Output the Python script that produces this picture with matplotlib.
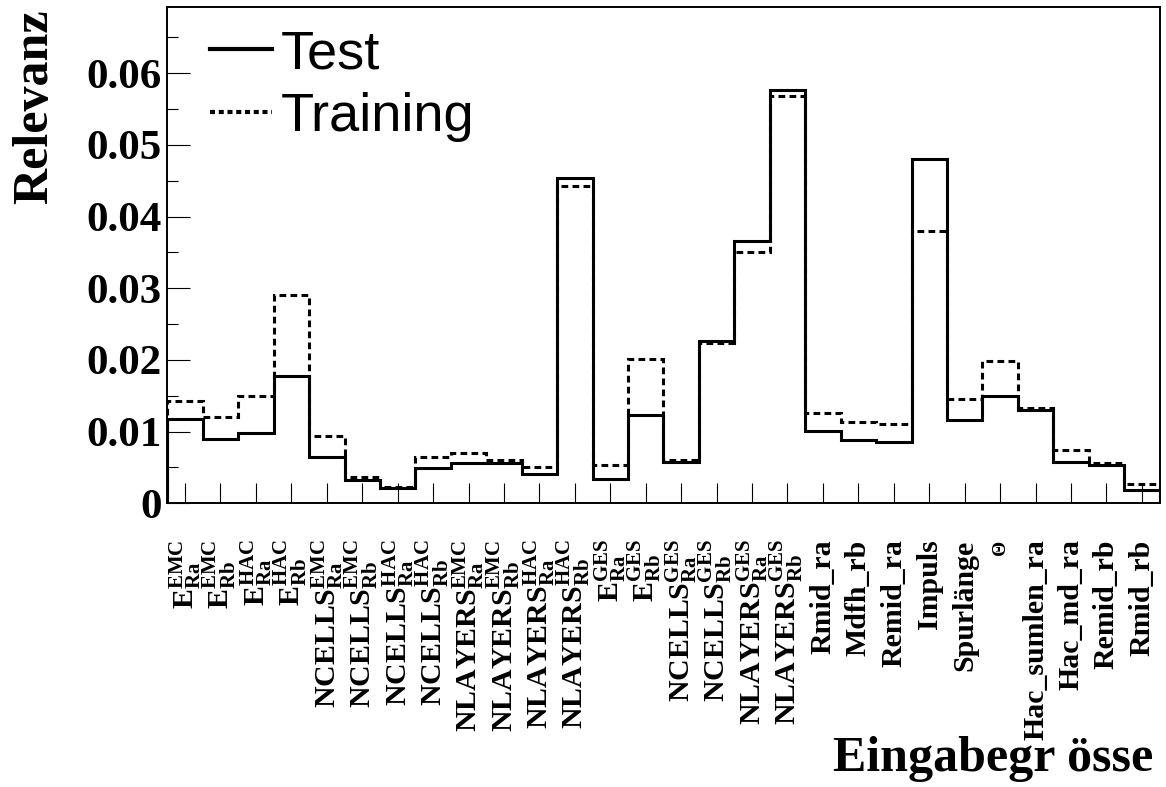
# Relevanz der Eingabegroessen fuer Test- und Trainingsdatensatz (ROOT-Stil Histogramm)

import matplotlib
matplotlib.use('Agg')
import matplotlib.pyplot as plt
from matplotlib.lines import Line2D
from matplotlib.ticker import MultipleLocator, FuncFormatter
import numpy as np

plt.rcParams['font.family'] = 'Liberation Serif'
plt.rcParams['font.weight'] = 'bold'
plt.rcParams['mathtext.fontset'] = 'custom'
plt.rcParams['mathtext.rm'] = 'Liberation Serif:bold'
plt.rcParams['mathtext.bf'] = 'Liberation Serif:bold'
plt.rcParams['mathtext.it'] = 'Liberation Serif:bold'

variables = [
    r'$\mathrm{E}^{\mathrm{EMC}}_{\mathrm{Ra}}$',
    r'$\mathrm{E}^{\mathrm{EMC}}_{\mathrm{Rb}}$',
    r'$\mathrm{E}^{\mathrm{HAC}}_{\mathrm{Ra}}$',
    r'$\mathrm{E}^{\mathrm{HAC}}_{\mathrm{Rb}}$',
    r'$\mathrm{NCELLS}^{\mathrm{EMC}}_{\mathrm{Ra}}$',
    r'$\mathrm{NCELLS}^{\mathrm{EMC}}_{\mathrm{Rb}}$',
    r'$\mathrm{NCELLS}^{\mathrm{HAC}}_{\mathrm{Ra}}$',
    r'$\mathrm{NCELLS}^{\mathrm{HAC}}_{\mathrm{Rb}}$',
    r'$\mathrm{NLAYERS}^{\mathrm{EMC}}_{\mathrm{Ra}}$',
    r'$\mathrm{NLAYERS}^{\mathrm{EMC}}_{\mathrm{Rb}}$',
    r'$\mathrm{NLAYERS}^{\mathrm{HAC}}_{\mathrm{Ra}}$',
    r'$\mathrm{NLAYERS}^{\mathrm{HAC}}_{\mathrm{Rb}}$',
    r'$\mathrm{E}^{\mathrm{GES}}_{\mathrm{Ra}}$',
    r'$\mathrm{E}^{\mathrm{GES}}_{\mathrm{Rb}}$',
    r'$\mathrm{NCELLS}^{\mathrm{GES}}_{\mathrm{Ra}}$',
    r'$\mathrm{NCELLS}^{\mathrm{GES}}_{\mathrm{Rb}}$',
    r'$\mathrm{NLAYERS}^{\mathrm{GES}}_{\mathrm{Ra}}$',
    r'$\mathrm{NLAYERS}^{\mathrm{GES}}_{\mathrm{Rb}}$',
    'Rmid_ra',
    'Mdfh_rb',
    'Remid_ra',
    'Impuls',
    'Spurlänge',
    'Θ',
    'Hac_sumlen_ra',
    'Hac_md_ra',
    'Remid_rb',
    'Rmid_rb',
]

relevanz_test = [0.0117, 0.0090, 0.0098, 0.0178, 0.0064, 0.0033, 0.0021, 0.0049,
                 0.0056, 0.0056, 0.0041, 0.0454, 0.0034, 0.0123, 0.0057, 0.0227,
                 0.0366, 0.0577, 0.0101, 0.0088, 0.0086, 0.0481, 0.0116, 0.0149,
                 0.0130, 0.0057, 0.0054, 0.0019]

relevanz_training = [0.0143, 0.0120, 0.0150, 0.0290, 0.0094, 0.0037, 0.0023, 0.0065,
                     0.0070, 0.0061, 0.0050, 0.0443, 0.0054, 0.0201, 0.0061, 0.0224,
                     0.0350, 0.0568, 0.0126, 0.0114, 0.0111, 0.0380, 0.0145, 0.0199,
                     0.0133, 0.0075, 0.0056, 0.0027]

n_bins = len(variables)
edges = np.arange(n_bins + 1)
dash = (0, (2.2, 1.4))

fig = plt.figure(figsize=(11.66, 7.87), dpi=100)
ax = fig.add_axes([0.1435, 0.3605, 0.851, 0.6302])

ax.stairs(relevanz_training, edges, baseline=0, color='black', linewidth=2.2,
          linestyle=dash)
ax.stairs(relevanz_test, edges, baseline=0, color='black', linewidth=2.2)

ax.set_xlim(0, n_bins)
ax.set_ylim(0, 0.0692)

for side in ax.spines.values():
    side.set_linewidth(1.4)

# bin labels
ax.set_xticks(edges[:-1] + 0.5)
ax.set_xticklabels(variables, rotation=90, va='top', ha='center', fontsize=21.5)
ax.get_xticklabels()[variables.index('Θ')].set_fontsize(14)
ax.tick_params(axis='x', direction='in', length=14.4, width=0.8, pad=26)

ax.yaxis.set_major_locator(MultipleLocator(0.01))
ax.yaxis.set_minor_locator(MultipleLocator(0.005))
ax.yaxis.set_major_formatter(FuncFormatter(lambda v, p: '0' if abs(v) < 1e-9 else f'{v:.2f}'))
ax.tick_params(axis='y', which='major', direction='in', length=16.5, width=0.8,
               pad=4, labelsize=31)
ax.tick_params(axis='y', which='minor', direction='in', length=8, width=0.8)

ax.set_ylabel('Relevanz', fontsize=36, fontweight='bold', loc='top')
ax.yaxis.set_label_coords(-0.11, 0.995)
ax.set_xlabel('Eingabegr össe', fontsize=36, fontweight='bold', loc='right')
ax.xaxis.set_label_coords(0.9935, -0.47)

handles = [Line2D([], [], color='black', linewidth=3),
           Line2D([], [], color='black', linewidth=3, linestyle=(0, (1.2, 0.9)))]
ax.legend(handles, ['Test', 'Training'], loc='upper left',
          bbox_to_anchor=(0.043, 0.956), frameon=False,
          prop={'family': 'Liberation Sans', 'weight': 'normal', 'size': 39},
          handlelength=1.15, handletextpad=0.15, labelspacing=0.24,
          borderpad=0.0, borderaxespad=0.0)

fig.savefig('out.png', dpi=100)
